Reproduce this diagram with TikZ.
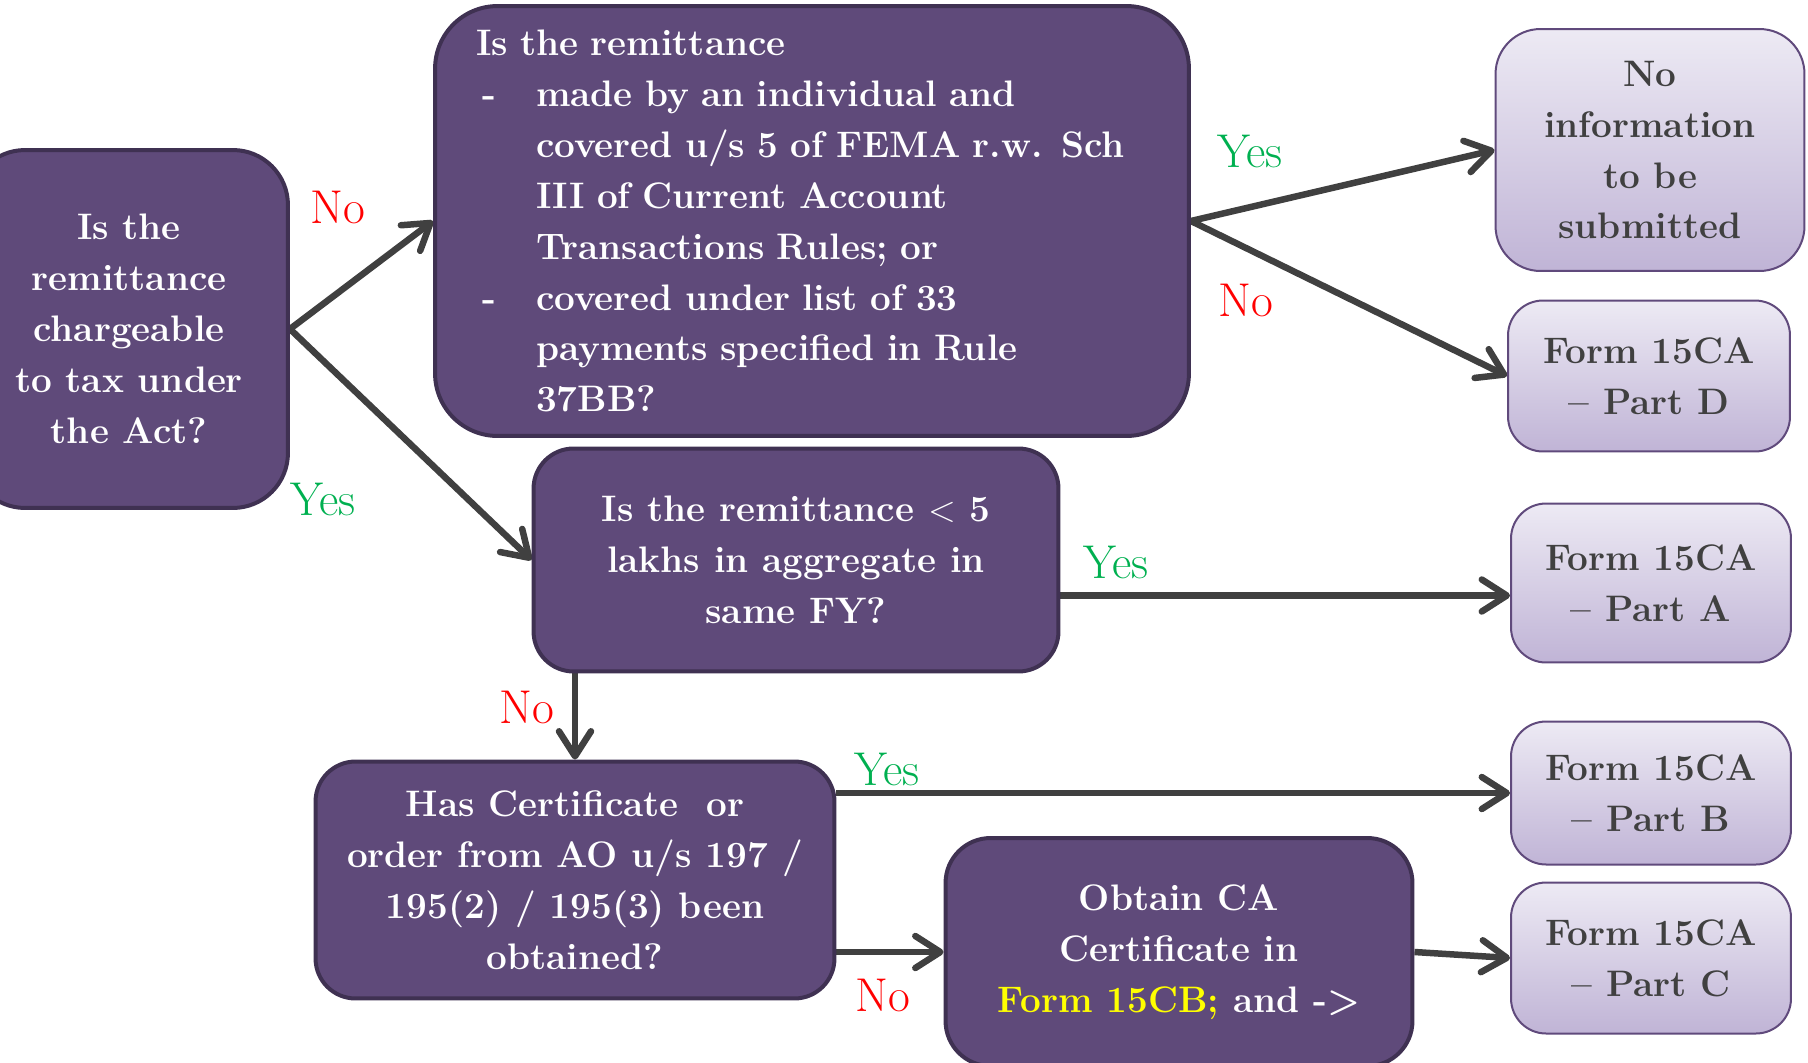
\documentclass[tikz,border=0pt]{standalone}
\usepackage{tikz}
\usetikzlibrary{arrows.meta}
\definecolor{qpurple}{RGB}{95,74,122}
\definecolor{qborder}{RGB}{63,49,82}
\definecolor{otop}{RGB}{237,234,244}
\definecolor{obottom}{RGB}{192,180,214}
\definecolor{oborder}{RGB}{96,74,124}
\definecolor{otext}{RGB}{64,64,64}
\definecolor{darrow}{RGB}{64,64,64}
\definecolor{yesgreen}{RGB}{0,176,80}
\definecolor{nored}{RGB}{255,0,0}
\definecolor{hlyellow}{RGB}{255,255,0}
\pgfdeclarelayer{edgelayer}
\pgfdeclarelayer{nodelayer}
\pgfsetlayers{edgelayer,nodelayer,main}
\tikzstyle{question}=[rectangle, rounded corners=0.8cm, fill=qpurple, draw=qborder, line width=0.08cm, text=white, font=\bfseries\fontsize{21}{29}\selectfont, align=center, inner sep=0pt]
\tikzstyle{outcome}=[rectangle, rounded corners=0.7cm, top color=otop, bottom color=obottom, draw=oborder, line width=0.04cm, text=otext, font=\bfseries\fontsize{21}{29}\selectfont, align=center, inner sep=0pt]
\tikzstyle{arrow}=[-{Straight Barb[length=0.5cm, width=0.64cm, round]}, draw=darrow, line width=0.13cm]
\tikzstyle{yes}=[text=yesgreen, font=\fontsize{27}{32}\selectfont]
\tikzstyle{no}=[text=nored, font=\fontsize{27}{32}\selectfont]

\begin{document}
\begin{tikzpicture}[x=0.02cm, y=-0.02cm]
            \useasboundingbox (0,0) rectangle (1808,1062);
            \begin{pgfonlayer}{nodelayer}
                \node [style=question, rounded corners=1.1cm, minimum width=6.36cm, minimum height=7.16cm] (chargeable) at (129, 329) {Is the\\remittance\\chargeable\\to tax under\\the Act?};
                \node [style=question, rounded corners=1.25cm, align=left, text width=13.44cm, inner xsep=0.82cm, minimum height=8.6cm] (covered) at (812, 221) {Is the remittance\\
                    \makebox[1.2cm][l]{\hspace{0.12cm}-}made by an individual and\\
                    \hspace*{1.2cm}covered u/s 5 of FEMA r.w. Sch\\
                    \hspace*{1.2cm}III of Current Account\\
                    \hspace*{1.2cm}Transactions Rules; or\\
                    \makebox[1.2cm][l]{\hspace{0.12cm}-}covered under list of 33\\
                    \hspace*{1.2cm}payments specified in Rule\\
                    \hspace*{1.2cm}37BB?};
                \node [style=question, minimum width=10.5cm, minimum height=4.46cm] (lakhs) at (796, 560) {Is the remittance $<$ 5\\lakhs in aggregate in\\same FY?};
                \node [style=question, minimum width=10.38cm, minimum height=4.74cm] (certificate) at (575, 880) {Has Certificate \ or\\order from AO u/s 197 /\\195(2) / 195(3) been\\obtained?};
                \node [style=question, rounded corners=0.9cm, minimum width=9.34cm, minimum height=4.56cm] (obtainca) at (1179, 952) {Obtain CA\\Certificate in\\\textcolor{hlyellow}{Form 15CB;} and -{}>};
                \node [style=outcome, rounded corners=0.9cm, minimum width=6.18cm, minimum height=4.84cm] (noinfo) at (1650, 150) {No\\information\\to be\\submitted};
                \node [style=outcome, minimum width=5.64cm, minimum height=3.02cm] (partD) at (1649, 376) {Form 15CA\\-- Part D};
                \node [style=outcome, minimum width=5.6cm, minimum height=3.18cm] (partA) at (1651, 583) {Form 15CA\\-- Part A};
                \node [style=outcome, minimum width=5.6cm, minimum height=2.86cm] (partB) at (1651, 793) {Form 15CA\\-- Part B};
                \node [style=outcome, minimum width=5.6cm, minimum height=3.02cm] (partC) at (1651, 958) {Form 15CA\\-- Part C};
                \node [style=no] (noA) at (338, 207) {No};
                \node [style=yes] (yesA) at (323, 499) {Yes};
                \node [style=yes] (yesB) at (1250, 151) {Yes};
                \node [style=no] (noB) at (1246, 300) {No};
                \node [style=yes] (yesC) at (1116, 562) {Yes};
                \node [style=no] (noC) at (527, 707) {No};
                \node [style=yes] (yesD) at (887, 769) {Yes};
                \node [style=no] (noD) at (883, 995) {No};
                \coordinate (lakhsout) at ([yshift=-0.71cm]lakhs.east);
            \end{pgfonlayer}
            \begin{pgfonlayer}{edgelayer}
                \draw [style=arrow] (chargeable.east) to (covered.west);
                \draw [style=arrow] (chargeable.east) to (lakhs.west);
                \draw [style=arrow] (covered.east) to (noinfo.west);
                \draw [style=arrow] (covered.east) to (partD.west);
                \draw [style=arrow] (lakhsout) to (lakhsout -| partA.west);
                \draw [style=arrow] (lakhs.south -| certificate.north) to (certificate.north);
                \draw [style=arrow] (certificate.east |- partB.west) to (partB.west);
                \draw [style=arrow] (certificate.east |- obtainca.west) to (obtainca.west);
                \draw [style=arrow] (obtainca.east) to (partC.west);
            \end{pgfonlayer}
        \end{tikzpicture}
\end{document}
